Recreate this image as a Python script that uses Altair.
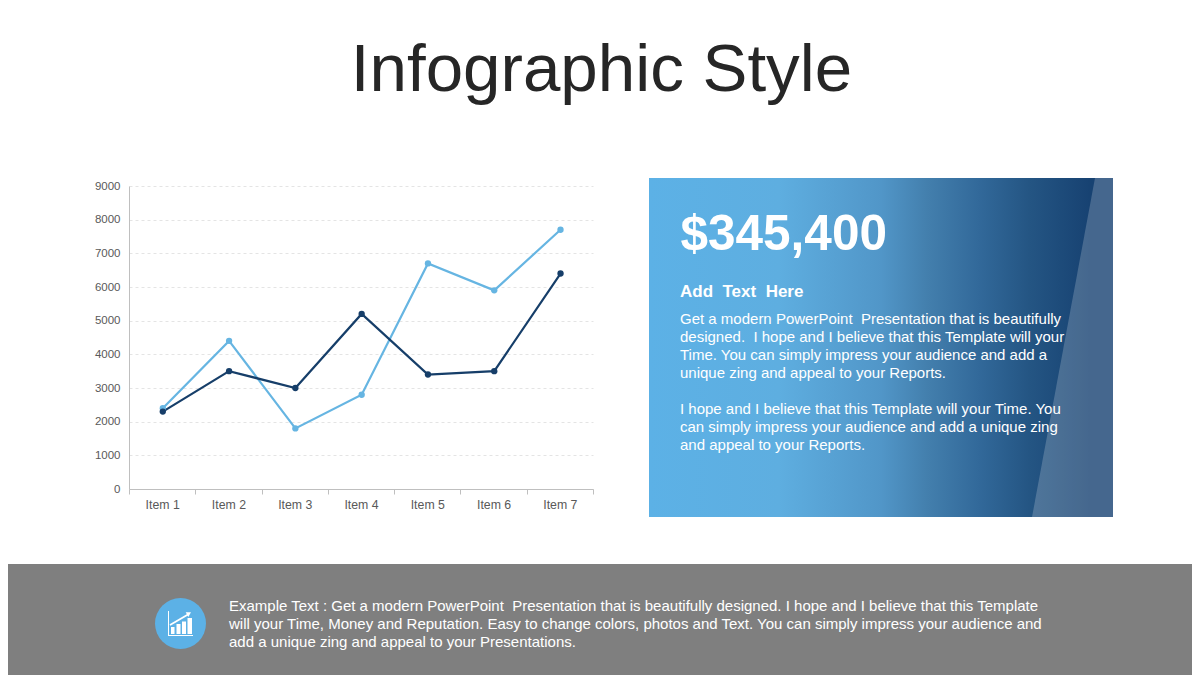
import altair as alt
import pandas as pd

items = ["Item 1", "Item 2", "Item 3", "Item 4", "Item 5", "Item 6", "Item 7"]
light_values = [2400, 4400, 1800, 2800, 6700, 5900, 7700]
dark_values = [2300, 3500, 3000, 5200, 3400, 3500, 6400]
y_ticks = list(range(0, 10000, 1000))
title_text = "Infographic Style"
big_number = "$345,400"
heading = "Add \u00a0Text \u00a0Here"
body_lines = [
    "Get a modern PowerPoint \u00a0Presentation that is beautifully",
    "designed. \u00a0I hope and I believe that this Template will your",
    "Time. You can simply impress your audience and add a",
    "unique zing and appeal to your Reports.",
    "I hope and I believe that this Template will your Time. You",
    "can simply impress your audience and add a unique zing",
    "and appeal to your Reports.",
]
body_baselines = [324, 342, 360, 378, 414, 432, 450]
foot_lines = [
    "Example Text : Get a modern PowerPoint \u00a0Presentation that is beautifully designed. I hope and I believe that this Template",
    "will your Time, Money and Reputation. Easy to change colors, photos and Text. You can simply impress your audience and",
    "add a unique zing and appeal to your Presentations.",
]
foot_baselines = [611, 629, 647]

PLOT_L, PLOT_T, PLOT_W, PLOT_H = 129, 186, 464, 303
FONT = "Liberation Sans"
one = pd.DataFrame({"a": [1]})


def px(v):
    return alt.value(v - PLOT_L)


def py(v):
    return alt.value(v - PLOT_T)


def rect(x0, y0, x1, y1, **kw):
    return alt.Chart(one).mark_rect(**kw).encode(x=px(x0), x2=px(x1), y=py(y0), y2=py(y1))


def text(s, x, y, size, color="white", bold=False, align="left"):
    return alt.Chart(one).mark_text(
        text=s, font=FONT, fontSize=size, color=color, align=align, baseline="alphabetic",
        fontWeight="bold" if bold else "normal",
    ).encode(x=px(x), y=py(y))


gradient = alt.LinearGradient(
    gradient="linear", x1=0, y1=0, x2=1, y2=0,
    stops=[
        alt.GradientStop(offset=0, color="#5CB1E6"),
        alt.GradientStop(offset=0.28, color="#5EAEE0"),
        alt.GradientStop(offset=0.5, color="#5196C8"),
        alt.GradientStop(offset=0.6, color="#437FAD"),
        alt.GradientStop(offset=0.71, color="#32699A"),
        alt.GradientStop(offset=0.82, color="#245583"),
        alt.GradientStop(offset=0.95, color="#174272"),
        alt.GradientStop(offset=1, color="#174272"),
    ],
)

page = rect(8, 8, 1192, 675, color="white", opacity=0)
band = rect(8, 564, 1192, 675, color="#7F7F7F")
panel = rect(649, 178, 1113, 517, color=gradient)

sheen_df = pd.DataFrame({"x": [1095 - PLOT_L, 1032 - PLOT_L], "x2": [1113 - PLOT_L, 1113 - PLOT_L],
                         "y": [178 - PLOT_T, 517 - PLOT_T]})
sheen = alt.Chart(sheen_df).mark_area(color="white", opacity=0.2, orient="horizontal").encode(
    x=alt.X("x:Q", scale=None, axis=None), x2="x2:Q", y=alt.Y("y:Q", scale=None, axis=None)
)

long_df = pd.DataFrame({
    "item": items * 2,
    "value": light_values + dark_values,
    "series": ["Series 1"] * 7 + ["Series 2"] * 7,
})
lines = alt.Chart(long_df).mark_line(
    strokeWidth=2.2, point=alt.OverlayMarkDef(filled=True, size=40, opacity=1)
).encode(
    x=alt.X("item:N", sort=items, bandPosition=0.51,
            scale=alt.Scale(type="band", paddingInner=0, paddingOuter=0),
            axis=alt.Axis(title=None, labelAngle=0, tickBand="extent", tickSize=5, tickColor="#BFBFBF",
                          domainColor="#BFBFBF", labelColor="#595959", labelFont=FONT, labelFontSize=12.3,
                          labelPadding=4, grid=False)),
    y=alt.Y("value:Q", scale=alt.Scale(domain=[0, 9000], nice=False),
            axis=alt.Axis(title=None, values=y_ticks, format="d", tickSize=0, domainColor="#BFBFBF",
                          labelColor="#595959", labelFont=FONT, labelFontSize=11.5, labelPadding=9, grid=True,
                          gridColor="#E4E4E4", gridDash=[3, 3], gridWidth=1)),
    color=alt.Color("series:N", scale=alt.Scale(domain=["Series 1", "Series 2"], range=["#66B5E2", "#163E69"]),
                    legend=None),
    order=alt.Order("series:N"),
)

texts = [
    text(title_text, 601.5, 90.5, 67.3, color="#262626", align="center"),
    text(big_number, 680.5, 250, 49.5, bold=True),
    text(heading, 680, 297, 17, bold=True),
]
texts += [text(s, 680, y, 15) for s, y in zip(body_lines, body_baselines)]
texts += [text(s, 229, y, 15) for s, y in zip(foot_lines, foot_baselines)]

circle = alt.Chart(one).mark_point(filled=True, shape="circle", size=2600, color="#5CB1E6", opacity=1).encode(
    x=px(180.5), y=py(623.5)
)
icon = [
    rect(168, 611, 169, 636, color="white"),
    rect(168, 635, 193, 636, color="white"),
    rect(171, 627, 174.5, 634, color="white"),
    rect(176.5, 624, 180.5, 634, color="white"),
    rect(182, 621.5, 186, 634, color="white"),
    rect(187.5, 618, 192, 634, color="white"),
    alt.Chart(one).mark_rule(color="white", strokeWidth=1.8).encode(x=px(170), x2=px(188), y=py(625), y2=py(614.5)),
    alt.Chart(one).mark_point(filled=True, shape="triangle-right", size=28, color="white", opacity=1, angle=330).encode(
        x=px(189), y=py(613.5)
    ),
]

chart = alt.layer(page, band, panel, sheen, lines, *texts, circle, *icon).resolve_scale(
    x="independent", y="independent"
).properties(width=PLOT_W, height=PLOT_H, padding=0, background="white").configure_view(stroke=None)

chart.save("out.html", embed_options={"renderer": "svg", "actions": False})
